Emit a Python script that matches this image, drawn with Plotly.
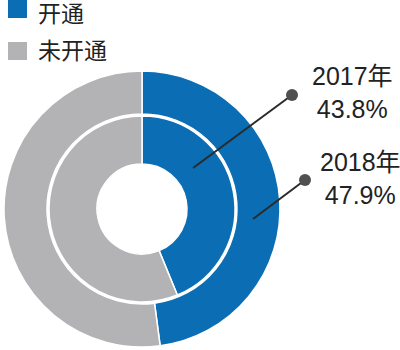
import plotly.graph_objects as go

labels = ["开通", "未开通"]
colors = ["#0b6db3", "#b3b3b5"]
years = ["2017年", "2018年"]
open_2017 = [43.8, 100 - 43.8]
open_2018 = [47.9, 100 - 47.9]

W, H = 400, 350
FONT = "Liberation Sans, Arial, Noto Sans CJK SC, sans-serif"

def px(x):
    return x / W

def py(y):
    return (H - y) / H

cx, cy = 142, 209
r_out, r_out_in = 138, 95
r_in, r_hole = 93, 45

fig = go.Figure()
fig.add_trace(go.Pie(
    labels=labels, values=open_2018, sort=False, direction="clockwise", rotation=0,
    hole=r_out_in / r_out, marker=dict(colors=colors, line=dict(color="white", width=1.5)),
    textinfo="none", hoverinfo="skip", showlegend=False,
    domain=dict(x=[px(cx - r_out), px(cx + r_out)], y=[py(cy + r_out), py(cy - r_out)]),
))
fig.add_trace(go.Pie(
    labels=labels, values=open_2017, sort=False, direction="clockwise", rotation=0,
    hole=r_hole / r_in, marker=dict(colors=colors, line=dict(color="white", width=1.5)),
    textinfo="none", hoverinfo="skip", showlegend=False,
    domain=dict(x=[px(cx - r_in), px(cx + r_in)], y=[py(cy + r_in), py(cy - r_in)]),
))

shapes = []
annotations = []

# manual legend
square_y = [9, 51]
text_y = [14, 51]
for lab, col, sy, ty in zip(labels, colors, square_y, text_y):
    shapes.append(dict(type="rect", xref="paper", yref="paper",
                       x0=px(8), x1=px(27), y0=py(sy + 9), y1=py(sy - 9),
                       fillcolor=col, line=dict(width=0)))
    annotations.append(dict(text=lab, xref="paper", yref="paper", x=px(36), y=py(ty),
                            xanchor="left", yanchor="middle", showarrow=False,
                            font=dict(family=FONT, size=23, color="#222")))

# callouts
vals = [open_2017[0], open_2018[0]]
dots = [(292, 95), (305, 180)]
ends = [(193, 168), (253, 219)]
text_pos = [(352, 92), (360, 178)]
for yr, v, d, e, t in zip(years, vals, dots, ends, text_pos):
    shapes.append(dict(type="line", xref="paper", yref="paper",
                       x0=px(d[0]), y0=py(d[1]), x1=px(e[0]), y1=py(e[1]),
                       line=dict(color="#2a2a2a", width=2)))
    shapes.append(dict(type="circle", xref="paper", yref="paper",
                       x0=px(d[0] - 6), x1=px(d[0] + 6), y0=py(d[1] + 6), y1=py(d[1] - 6),
                       fillcolor="#505050", line=dict(width=0)))
    annotations.append(dict(text=f"{yr}<br>{v}%", xref="paper", yref="paper",
                            x=px(t[0]), y=py(t[1]), xanchor="center", yanchor="middle",
                            showarrow=False, align="center",
                            font=dict(family=FONT, size=25, color="#222")))

fig.update_layout(
    width=W, height=H, margin=dict(l=0, r=0, t=0, b=0),
    paper_bgcolor="white", plot_bgcolor="white",
    shapes=shapes, annotations=annotations, showlegend=False,
)
fig.write_html("out.html")
